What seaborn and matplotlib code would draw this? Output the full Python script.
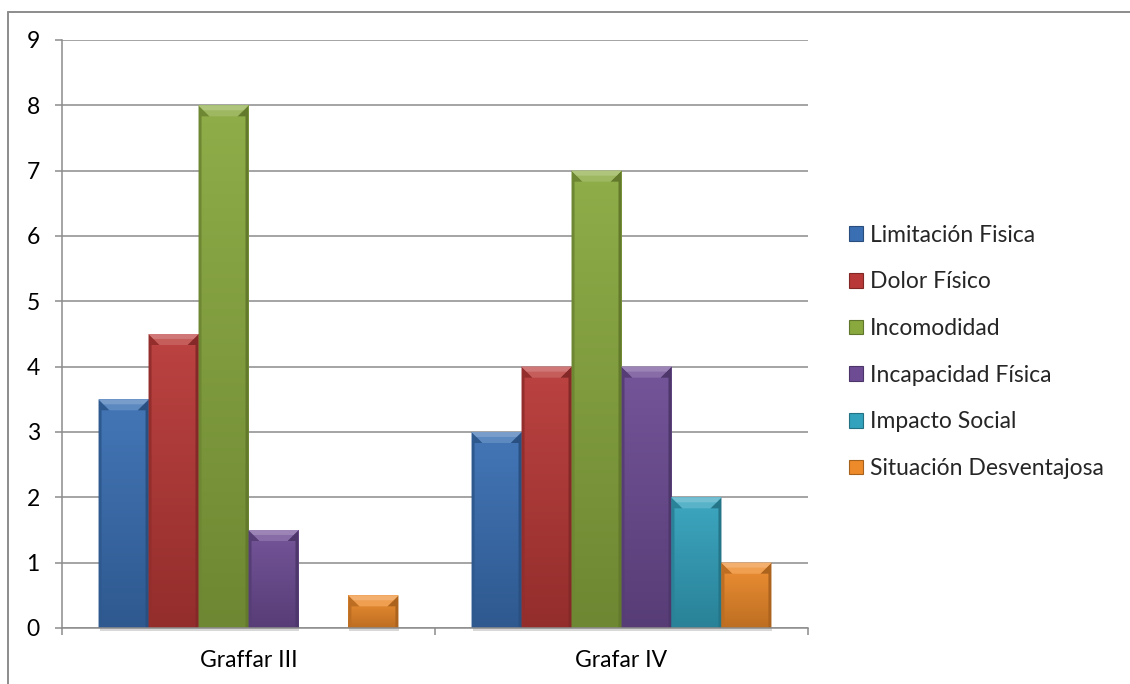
import numpy as np
import pandas as pd
import matplotlib
matplotlib.use("Agg")
import matplotlib.pyplot as plt
import seaborn as sns
from matplotlib.patches import Polygon, Patch
from matplotlib.colors import to_rgb
from matplotlib.lines import Line2D

# Data
grupos = ["Graffar III", "Grafar IV"]
dimensiones = ["Limitación Fisica", "Dolor Físico", "Incomodidad",
               "Incapacidad Física", "Impacto Social", "Situación Desventajosa"]
graffar_iii = [3.5, 4.5, 8, 1.5, 0, 0.5]
grafar_iv = [3, 4, 7, 4, 2, 1]
y_ticks = [0, 1, 2, 3, 4, 5, 6, 7, 8, 9]

colores = ["#3a6fb3", "#b83937", "#89a93f", "#6d4c94", "#33a2bd", "#ed8a2a"]

df = pd.DataFrame({
    "grupo": np.repeat(grupos, len(dimensiones)),
    "dimension": dimensiones * len(grupos),
    "valor": graffar_iii + grafar_iv,
})

sns.set_theme(style="white")
plt.rcParams["font.family"] = ["Lato", "DejaVu Sans"]

FS = 16.5
W, H, DPI = 11.3, 6.84, 100
fig = plt.figure(figsize=(W, H), dpi=DPI)
ax = fig.add_axes([62 / 1130, 1 - 628 / 684, (808 - 62) / 1130, (628 - 40) / 684])

sns.barplot(data=df, x="grupo", y="valor", hue="dimension", hue_order=dimensiones,
            palette=colores, width=0.804, saturation=1, legend=False, ax=ax,
            edgecolor="none", linewidth=0, zorder=3)

ax.set_xlim(-0.5, 1.5)
ax.set_ylim(0, 9)
ax.set_yticks(y_ticks)
ax.set_xlabel("")
ax.set_ylabel("")

grid_c = "#8c8c8c"
ax.yaxis.grid(True, color=grid_c, linewidth=1.1, zorder=0)
ax.xaxis.grid(False)
for s in ["top", "right"]:
    ax.spines[s].set_visible(False)
for s in ["left", "bottom"]:
    ax.spines[s].set_color(grid_c)
    ax.spines[s].set_linewidth(1.1)
    ax.spines[s].set_zorder(5)

ax.tick_params(axis="y", which="major", direction="out", length=5, width=1.1,
               color=grid_c, pad=11, labelsize=FS, labelcolor="black", left=True)
ax.tick_params(axis="x", which="major", length=0, pad=16, labelsize=FS, labelcolor="black")
ax.set_xticks([-0.5, 0.5, 1.5], minor=True)
ax.tick_params(axis="x", which="minor", direction="out", length=5, width=1.1,
               color=grid_c, bottom=True)

# Pixel-to-data scale for bevel sizes
ax_w_px = (808 - 62)
ax_h_px = (628 - 40)
px_x = 2.0 / ax_w_px
px_y = 9.0 / ax_h_px

def shade(c, f):
    r, g, b = to_rgb(c)
    if f >= 1:
        return tuple(min(1, v + (1 - v) * (f - 1)) for v in (r, g, b))
    return tuple(v * f for v in (r, g, b))

bars = [p for p in ax.patches if hasattr(p, "get_height")]
for p in bars:
    h = p.get_height()
    if h <= 0:
        continue
    x0 = p.get_x()
    w = p.get_width()
    base = p.get_facecolor()[:3]
    # vertical gradient clipped to bar
    top_c = np.array(shade(base, 1.05))
    bot_c = np.array(shade(base, 0.80))
    t = np.linspace(0, 1, 64)[:, None]
    grad = (bot_c[None, :] * (1 - t) + top_c[None, :] * t)[:, None, :]
    im = ax.imshow(grad, extent=[x0, x0 + w, 0, h], origin="lower",
                   aspect="auto", zorder=3.1, interpolation="bilinear")
    im.set_clip_path(p)
    bx = 11 * px_x
    by = 11 * px_y
    sx = 3 * px_x
    # left and right side bevels
    ax.add_patch(Polygon([[x0, 0], [x0 + sx, 0], [x0 + sx, h - by], [x0 + bx, h - by], [x0, h]],
                         closed=True, facecolor=shade(base, 0.80), edgecolor="none", zorder=3.2))
    ax.add_patch(Polygon([[x0 + w, 0], [x0 + w - sx, 0], [x0 + w - sx, h - by], [x0 + w - bx, h - by], [x0 + w, h]],
                         closed=True, facecolor=shade(base, 0.72), edgecolor="none", zorder=3.2))
    # top highlight bevel, brighter toward the rim
    ax.add_patch(Polygon([[x0, h], [x0 + w, h], [x0 + w - bx, h - by], [x0 + bx, h - by]],
                         closed=True, facecolor=shade(base, 1.18), edgecolor="none", zorder=3.3))
    ax.add_patch(Polygon([[x0, h], [x0 + w, h], [x0 + w - bx * 0.45, h - by * 0.45], [x0 + bx * 0.45, h - by * 0.45]],
                         closed=True, facecolor=shade(base, 1.32), edgecolor="none", zorder=3.35))
    # soft shadow at the base
    ax.add_patch(Polygon([[x0 + 1 * px_x, -3 * px_y], [x0 + w + 1 * px_x, -3 * px_y],
                          [x0 + w + 1 * px_x, 0], [x0 + 1 * px_x, 0]],
                         closed=True, facecolor=(0.75, 0.75, 0.75), edgecolor="none",
                         zorder=2.9, clip_on=False, alpha=0.6))

# Legend
handles = [Patch(facecolor=c, edgecolor=shade(c, 0.7), linewidth=0.8) for c in colores]
fig.legend(handles, dimensiones, loc="center left", bbox_to_anchor=(849 / 1130, 1 - 352 / 684),
           frameon=False, fontsize=FS, handlelength=0.6, handleheight=0.6,
           handletextpad=0.3, labelspacing=1.12, borderaxespad=0, borderpad=0)

# Outer chart frame (top and left edges)
fig.add_artist(Line2D([8 / 1130, 1.0], [1 - 12 / 684, 1 - 12 / 684], transform=fig.transFigure,
                      color="#8c8c8c", linewidth=1.4))
fig.add_artist(Line2D([8 / 1130, 8 / 1130], [0, 1 - 12 / 684], transform=fig.transFigure,
                      color="#8c8c8c", linewidth=1.4))

fig.savefig("out.png", dpi=DPI, facecolor="white")
